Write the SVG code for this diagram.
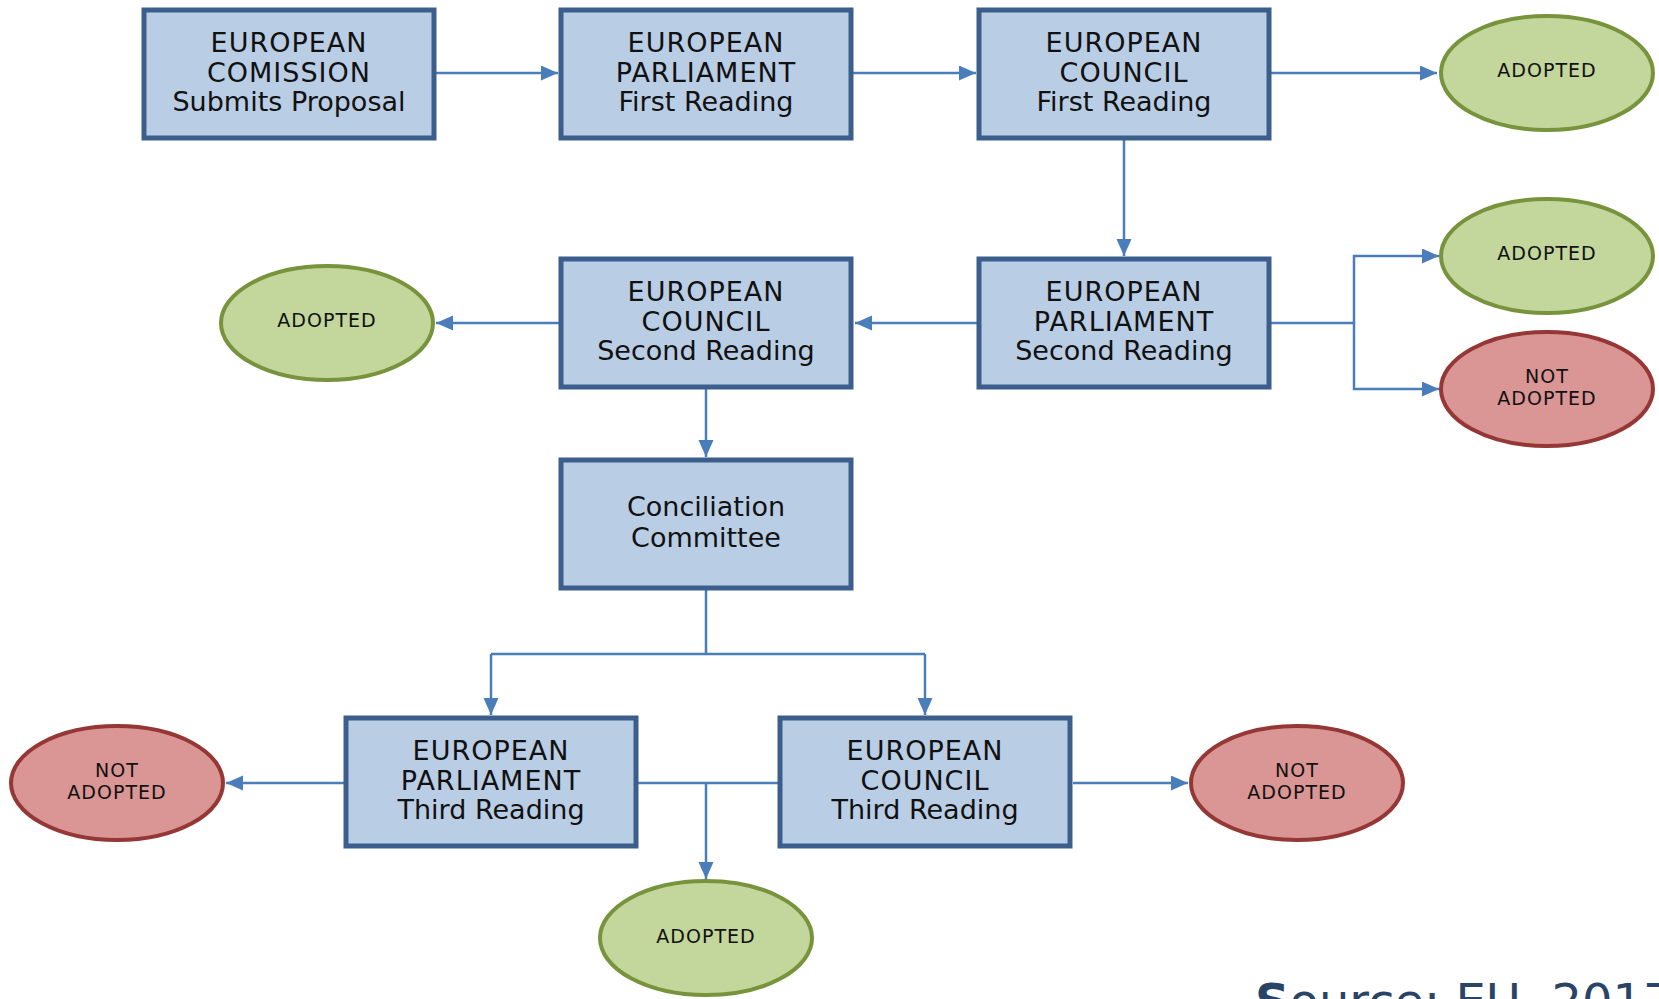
<svg xmlns="http://www.w3.org/2000/svg" width="1659" height="999" viewBox="0 0 1659 999">
<style>
.box rect{fill:#b9cde5;stroke:#3b5e8c;stroke-width:5}
.box text{font-family:"DejaVu Sans",sans-serif;font-size:27px;fill:#111;text-anchor:middle}
.box .cap{letter-spacing:1px}
.ok ellipse{fill:#c3d69b;stroke:#77933c;stroke-width:4}
.no ellipse{fill:#d99694;stroke:#953735;stroke-width:4}
.ell text{font-family:"DejaVu Sans",sans-serif;font-size:19px;fill:#111;text-anchor:middle;letter-spacing:1px}
.conn path{fill:none;stroke:#4a7ebb;stroke-width:2.5}
.conn .arr{marker-end:url(#ah)}
.src{font-family:"DejaVu Sans",sans-serif;font-size:48px;fill:#2a4467}
</style>
<defs>
<marker id="ah" markerUnits="userSpaceOnUse" markerWidth="18" markerHeight="16" refX="17" refY="7.5" orient="auto">
<path d="M0,0 L17,7.5 L0,15 z" fill="#4a7ebb"/>
</marker>
</defs>
<rect width="1659" height="999" fill="#ffffff"/>
<g id="connectors" class="conn">
<path class="arr" d="M436,73 H558"/>
<path class="arr" d="M853,73 H976"/>
<path class="arr" d="M1271,73 H1437"/>
<path class="arr" d="M1124,140 V256"/>
<path class="arr" d="M977,323 H855"/>
<path d="M1271,323 H1354"/>
<path class="arr" d="M1354,323 V256 H1439"/>
<path class="arr" d="M1354,323 V389 H1439"/>
<path class="arr" d="M559,323 H436"/>
<path class="arr" d="M706,389 V457"/>
<path d="M706,590 V654 M491,654 H925"/>
<path class="arr" d="M491,654 V715"/>
<path class="arr" d="M925,654 V715"/>
<path class="arr" d="M344,783 H226"/>
<path d="M638,783 H778"/>
<path class="arr" d="M706,783 V879"/>
<path class="arr" d="M1073,783 H1188"/>
</g>
<g id="n-commission" class="box">
<rect x="144" y="10" width="290" height="128"/>
<text x="289" y="52" class="cap">EUROPEAN</text>
<text x="289" y="82" class="cap">COMISSION</text>
<text x="289" y="111">Submits Proposal</text>
</g>
<g id="n-ep1" class="box">
<rect x="561" y="10" width="290" height="128"/>
<text x="706" y="52" class="cap">EUROPEAN</text>
<text x="706" y="82" class="cap">PARLIAMENT</text>
<text x="706" y="111">First Reading</text>
</g>
<g id="n-ec1" class="box">
<rect x="979" y="10" width="290" height="128"/>
<text x="1124" y="52" class="cap">EUROPEAN</text>
<text x="1124" y="82" class="cap">COUNCIL</text>
<text x="1124" y="111">First Reading</text>
</g>
<g id="n-ep2" class="box">
<rect x="979" y="259" width="290" height="128"/>
<text x="1124" y="301" class="cap">EUROPEAN</text>
<text x="1124" y="331" class="cap">PARLIAMENT</text>
<text x="1124" y="360">Second Reading</text>
</g>
<g id="n-ec2" class="box">
<rect x="561" y="259" width="290" height="128"/>
<text x="706" y="301" class="cap">EUROPEAN</text>
<text x="706" y="331" class="cap">COUNCIL</text>
<text x="706" y="360">Second Reading</text>
</g>
<g id="n-concil" class="box">
<rect x="561" y="460" width="290" height="128"/>
<text x="706" y="516">Conciliation</text>
<text x="706" y="547">Committee</text>
</g>
<g id="n-ep3" class="box">
<rect x="346" y="718" width="290" height="128"/>
<text x="491" y="760" class="cap">EUROPEAN</text>
<text x="491" y="790" class="cap">PARLIAMENT</text>
<text x="491" y="819">Third Reading</text>
</g>
<g id="n-ec3" class="box">
<rect x="780" y="718" width="290" height="128"/>
<text x="925" y="760" class="cap">EUROPEAN</text>
<text x="925" y="790" class="cap">COUNCIL</text>
<text x="925" y="819">Third Reading</text>
</g>
<g id="n-adopted1" class="ell ok">
<ellipse cx="1547" cy="73" rx="106" ry="57"/>
<text x="1547" y="77">ADOPTED</text>
</g>
<g id="n-adopted2" class="ell ok">
<ellipse cx="1547" cy="256" rx="106" ry="57"/>
<text x="1547" y="260">ADOPTED</text>
</g>
<g id="n-notadopted1" class="ell no">
<ellipse cx="1547" cy="389" rx="106" ry="57"/>
<text x="1547" y="383">NOT</text>
<text x="1547" y="405">ADOPTED</text>
</g>
<g id="n-adopted3" class="ell ok">
<ellipse cx="327" cy="323" rx="106" ry="57"/>
<text x="327" y="327">ADOPTED</text>
</g>
<g id="n-notadopted2" class="ell no">
<ellipse cx="117" cy="783" rx="106" ry="57"/>
<text x="117" y="777">NOT</text>
<text x="117" y="799">ADOPTED</text>
</g>
<g id="n-notadopted3" class="ell no">
<ellipse cx="1297" cy="783" rx="106" ry="57"/>
<text x="1297" y="777">NOT</text>
<text x="1297" y="799">ADOPTED</text>
</g>
<g id="n-adopted4" class="ell ok">
<ellipse cx="706" cy="938" rx="106" ry="57"/>
<text x="706" y="943">ADOPTED</text>
</g>
<text class="src" x="1255" y="1018"><tspan font-weight="bold">S</tspan>ource: EU, 2017</text>
</svg>
